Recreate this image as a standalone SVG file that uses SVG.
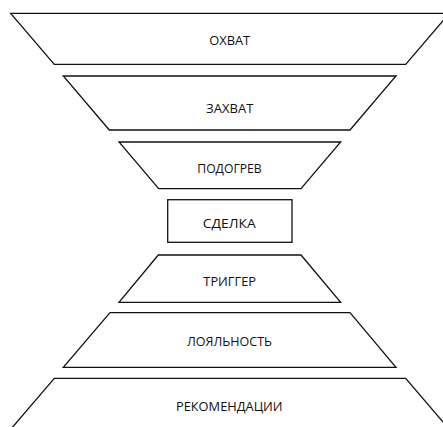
<svg xmlns="http://www.w3.org/2000/svg" width="443" height="427" viewBox="0 0 443 427">
<style>
.s{fill:#fff;stroke:#111;stroke-width:1.3;stroke-linejoin:miter}
.t{font-family:"Open Sans","Noto Sans",sans-serif;font-size:13.5px;fill:#111;text-anchor:middle}
</style>
<rect width="443" height="427" fill="#fff"/>
<g id="n1"><polygon class="s" points="10.7,13.3 449.3,13.3 405.7,64.3 54.3,64.3"/><text class="t" x="229.7" y="44.6" textLength="41" lengthAdjust="spacingAndGlyphs">ОХВАТ</text></g>
<g id="n2"><polygon class="s" points="63.3,76 396,76 350,130 109.3,130"/><text class="t" x="229.7" y="112.6" textLength="47.3" lengthAdjust="spacingAndGlyphs">ЗАХВАТ</text></g>
<g id="n3"><polygon class="s" points="119,142 340.7,142 301,188.7 158.7,188.7"/><text class="t" x="229.5" y="172.6" textLength="64.4" lengthAdjust="spacingAndGlyphs">ПОДОГРЕВ</text></g>
<g id="n4"><rect class="s" x="167.7" y="199.7" width="124.3" height="42.6"/><text class="t" x="229.2" y="228.2" textLength="53" lengthAdjust="spacingAndGlyphs">СДЕЛКА</text></g>
<g id="n5"><polygon class="s" points="158.3,255 301,255 340.7,302.3 119,302.3"/><text class="t" x="229.7" y="285.7" textLength="52.7" lengthAdjust="spacingAndGlyphs">ТРИГГЕР</text></g>
<g id="n6"><polygon class="s" points="110,312.7 350,312.7 396,367.3 63.3,367.3"/><text class="t" x="229.5" y="345.9" textLength="85" lengthAdjust="spacingAndGlyphs">ЛОЯЛЬНОСТЬ</text></g>
<g id="n7"><polygon class="s" points="54.3,378.3 405.7,378.3 449.3,429.3 10.7,429.3"/><text class="t" x="229.3" y="410.6" textLength="106.7" lengthAdjust="spacingAndGlyphs">РЕКОМЕНДАЦИИ</text></g>
<g id="connectors"/>
</svg>
